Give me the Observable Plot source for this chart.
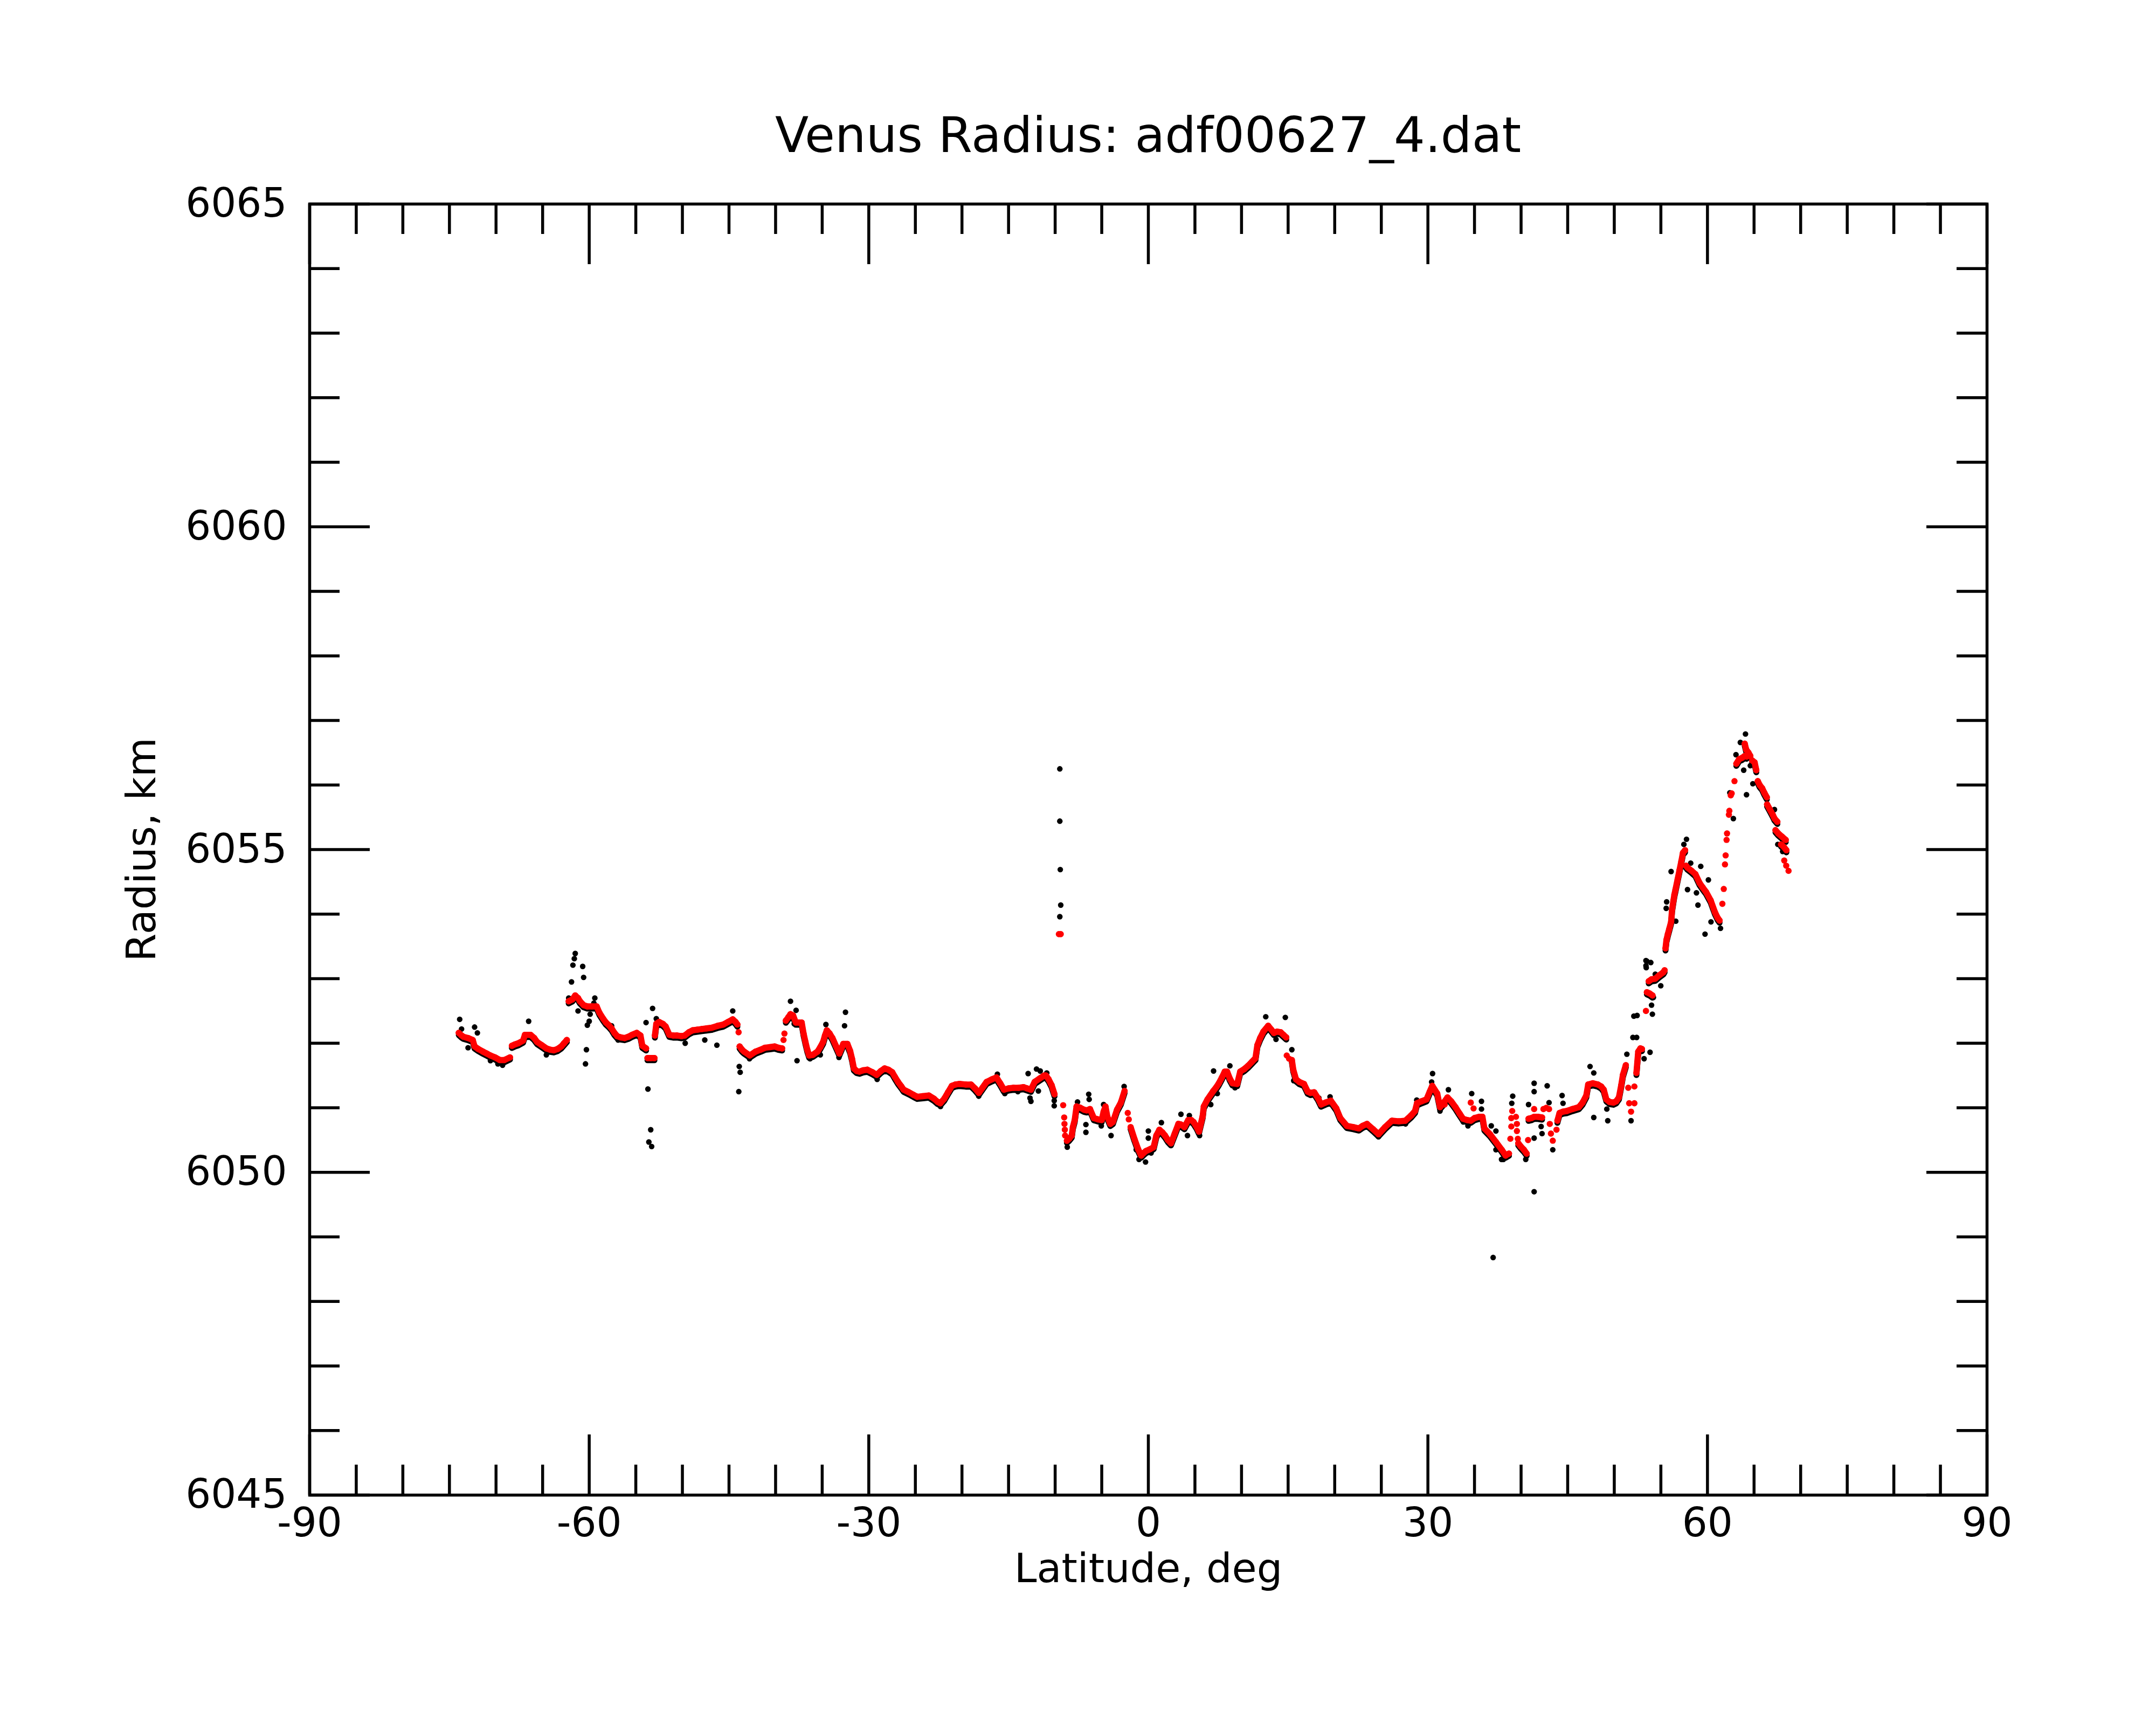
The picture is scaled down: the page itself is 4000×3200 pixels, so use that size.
<!DOCTYPE html>
<html>
<head>
<meta charset="utf-8">
<script src="https://cdn.jsdelivr.net/npm/d3@7"></script>
<script src="https://cdn.jsdelivr.net/npm/@observablehq/plot@0.6"></script>
<style>
html, body { margin: 0; padding: 0; background: #fff; }
#title { margin-left: 574px; width: 3112px; height: 300px; box-sizing: border-box; padding-top: 205px;
  text-align: center; font-family: "DejaVu Sans", sans-serif; font-size: 91px; line-height: 91px; color: #000; white-space: nowrap; }
#chart { width: 4000px; }
</style>
</head>
<body>
<div id="title">Venus Radius: adf00627_4.dat</div>
<div id="chart"></div>
<script>
// ---- tick values ----
const xMajor = [-90, -60, -30, 0, 30, 60, 90];
const xMinor = [-85,-80,-75,-70,-65,-55,-50,-45,-40,-35,-25,-20,-15,-10,-5,5,10,15,20,25,35,40,45,50,55,65,70,75,80,85];
const yMajor = [6045, 6050, 6055, 6060, 6065];
const yMinor = [6046,6047,6048,6049,6051,6052,6053,6054,6056,6057,6058,6059,6061,6062,6063,6064];

// ---- red (smoothed) track: [latitude, radius]; null = gap ----
const redTrack = [
[-74.0,6052.16],[-73.7,6052.12],[-73.5,6052.10],[-73.0,6052.08],[-72.5,6052.05],[-72.3,6051.95],[-71.9,6051.91],[-71.4,6051.87],[-71.0,6051.84],[-70.6,6051.81],[-70.1,6051.78],[-69.6,6051.74],[-69.1,6051.74],[-68.5,6051.78],
null,
[-68.3,6051.96],[-68.0,6051.98],[-67.6,6052.00],[-67.1,6052.04],[-66.9,6052.13],[-66.3,6052.13],[-65.9,6052.08],[-65.6,6052.02],[-65.1,6051.97],[-64.6,6051.92],[-64.2,6051.90],[-63.8,6051.89],[-63.4,6051.91],[-63.0,6051.95],[-62.7,6052.00],[-62.4,6052.05],
null,
[-62.2,6052.65],[-61.8,6052.68],[-61.5,6052.74],[-61.2,6052.70],[-61.0,6052.65],[-60.6,6052.59],[-60.2,6052.57],[-59.7,6052.57],[-59.2,6052.57],[-58.9,6052.47],[-58.5,6052.38],[-58.2,6052.32],[-57.9,6052.28],[-57.6,6052.23],[-57.3,6052.16],[-57.0,6052.11],[-56.6,6052.09],[-56.2,6052.08],[-55.8,6052.10],[-55.4,6052.13],[-54.9,6052.16],[-54.5,6052.12],[-54.3,6051.96],[-53.9,6051.92],
null,
[-53.75,6051.77],[-53.4,6051.77],[-53.0,6051.77],
null,
[-52.95,6052.12],[-52.8,6052.30],[-52.5,6052.33],[-52.1,6052.30],[-51.8,6052.26],[-51.4,6052.13],[-51.0,6052.12],[-50.6,6052.12],[-50.1,6052.11],[-49.75,6052.12],[-49.3,6052.17],[-48.9,6052.20],[-48.4,6052.21],[-47.9,6052.22],[-47.4,6052.23],[-46.85,6052.24],[-46.2,6052.27],[-45.6,6052.29],[-45.1,6052.33],[-44.6,6052.37],[-44.3,6052.33],[-44.1,6052.29],
null,
[-43.86,6051.95],[-43.6,6051.90],[-43.38,6051.87],[-42.77,6051.81],[-42.15,6051.87],[-41.6,6051.90],[-41.13,6051.93],[-40.6,6051.94],[-40.1,6051.95],[-39.7,6051.93],[-39.3,6051.92],
null,
[-38.9,6052.35],[-38.64,6052.40],[-38.4,6052.45],[-38.12,6052.43],[-37.83,6052.32],[-37.5,6052.32],[-37.2,6052.32],[-37.0,6052.15],[-36.8,6052.02],[-36.6,6051.90],[-36.4,6051.81],[-36.0,6051.82],[-35.5,6051.87],[-35.2,6051.94],[-34.9,6052.02],[-34.7,6052.12],[-34.5,6052.20],[-34.2,6052.15],[-33.9,6052.08],[-33.5,6051.95],[-33.16,6051.84],[-32.9,6051.93],[-32.74,6051.99],[-32.3,6051.99],[-32.0,6051.88],[-31.8,6051.76],[-31.6,6051.61],[-31.3,6051.57],[-31.0,6051.56],[-30.6,6051.58],[-30.16,6051.59],[-29.6,6051.55],[-29.15,6051.51],[-28.7,6051.57],[-28.3,6051.61],[-27.9,6051.59],[-27.48,6051.55],[-27.2,6051.48],[-26.86,6051.40],[-26.5,6051.33],[-26.26,6051.28],[-25.7,6051.24],[-25.2,6051.20],[-24.8,6051.17],[-24.2,6051.18],[-23.55,6051.19],[-23.0,6051.14],[-22.6,6051.09],[-22.33,6051.07],[-21.9,6051.14],[-21.5,6051.24],[-21.08,6051.34],[-20.7,6051.36],[-20.25,6051.37],[-19.6,6051.36],[-19.03,6051.36],[-18.6,6051.30],[-18.19,6051.23],[-17.8,6051.31],[-17.36,6051.40],[-16.8,6051.44],[-16.3,6051.47],[-15.9,6051.38],[-15.5,6051.28],[-15.0,6051.30],[-14.47,6051.31],[-13.9,6051.31],[-13.4,6051.32],[-13.0,6051.30],[-12.6,6051.28],[-12.2,6051.40],[-11.7,6051.45],[-11.17,6051.50],[-10.99,6051.50],[-10.7,6051.44],[-10.38,6051.35],[-10.07,6051.21],
null,
[-8.74,6050.49],[-8.5,6050.52],[-8.22,6050.57],[-8.1,6050.70],[-7.9,6050.81],[-7.7,6051.02],[-7.3,6051.00],[-6.9,6050.97],[-6.6,6050.96],[-6.26,6050.98],[-5.85,6050.84],[-5.4,6050.82],[-5.0,6050.81],[-4.8,6050.94],[-4.6,6051.02],[-4.4,6050.86],[-4.08,6050.75],[-3.8,6050.78],[-3.36,6050.97],[-2.95,6051.08],[-2.55,6051.26],
null,
[-1.9,6050.70],[-1.5,6050.52],[-1.1,6050.36],[-0.77,6050.26],[-0.5,6050.30],[-0.26,6050.33],[0.2,6050.36],[0.57,6050.39],[0.86,6050.57],[1.19,6050.66],[1.5,6050.62],[1.79,6050.57],[2.1,6050.50],[2.43,6050.45],[2.83,6050.60],[3.23,6050.75],[3.5,6050.74],[3.87,6050.70],[4.28,6050.81],[4.6,6050.81],[4.85,6050.78],[5.2,6050.70],[5.43,6050.63],[5.83,6050.87],[5.95,6051.02],[6.35,6051.13],[6.97,6051.26],[7.3,6051.32],[7.57,6051.38],[7.9,6051.47],[8.2,6051.56],[8.45,6051.56],[8.75,6051.45],[9.02,6051.38],[9.54,6051.37],[9.86,6051.56],[10.3,6051.60],[10.7,6051.65],[11.1,6051.71],[11.5,6051.77],[11.7,6051.97],[12.0,6052.08],[12.35,6052.18],[12.86,6052.27],[13.2,6052.21],[13.47,6052.16],[13.8,6052.18],[14.2,6052.17],[14.5,6052.13],[14.8,6052.09],
null,
[15.4,6051.74],[15.55,6051.59],[15.85,6051.44],[16.2,6051.40],[16.7,6051.37],[17.1,6051.25],[17.4,6051.23],[17.8,6051.24],[18.2,6051.15],[18.54,6051.05],[19.0,6051.08],[19.58,6051.11],[20.17,6050.99],[20.6,6050.84],[21.3,6050.72],[22.0,6050.70],[22.6,6050.68],[23.0,6050.72],[23.46,6050.75],[24.1,6050.67],[24.7,6050.59],[25.4,6050.70],[26.14,6050.80],[26.9,6050.79],[27.58,6050.80],[28.2,6050.88],[28.62,6050.95],[28.83,6051.07],[29.3,6051.10],[29.85,6051.13],[30.2,6051.25],[30.47,6051.34],[31.0,6051.22],[31.3,6051.01],[31.7,6051.08],[32.1,6051.16],[32.5,6051.10],[32.96,6051.01],[33.4,6050.91],[33.77,6050.83],[34.2,6050.81],[34.6,6050.80],[35.0,6050.84],[35.5,6050.86],[35.85,6050.86],[36.06,6050.68],[36.66,6050.59],[37.3,6050.47],[37.92,6050.35],[38.34,6050.26],[38.7,6050.29],
null,
[39.7,6050.45],[39.97,6050.40],[40.3,6050.35],[40.6,6050.29],
null,
[40.8,6050.83],[41.1,6050.84],[41.4,6050.86],[41.8,6050.86],[42.25,6050.85],
null,
[43.9,6050.80],[44.13,6050.92],[44.5,6050.94],[44.9,6050.95],[45.5,6050.98],[46.2,6051.01],[46.6,6051.08],[47.0,6051.19],[47.2,6051.36],[47.7,6051.38],[48.24,6051.36],[48.6,6051.33],[48.87,6051.28],[49.15,6051.13],[49.5,6051.09],[49.9,6051.08],[50.2,6051.10],[50.5,6051.16],[50.75,6051.35],[50.93,6051.51],[51.24,6051.66],
null,
[52.38,6051.54],[52.57,6051.87],[52.8,6051.92],[52.97,6051.91],
null,
[53.5,6052.79],[53.8,6052.77],[54.1,6052.74],
null,
[53.7,6052.96],[54.0,6052.99],[54.4,6053.00],[54.8,6053.05],[55.27,6053.10],[55.4,6053.13],
null,
[55.5,6053.47],[55.6,6053.60],[55.75,6053.69],[55.9,6053.77],[56.1,6053.88],[56.2,6054.07],[56.35,6054.21],[56.45,6054.30],[56.57,6054.38],[56.8,6054.54],[57.0,6054.68],[57.2,6054.82],[57.37,6054.95],[57.6,6054.99],
null,
[57.7,6054.75],[57.86,6054.72],[58.3,6054.67],[58.7,6054.62],[59.16,6054.48],[59.5,6054.41],[59.86,6054.34],[60.35,6054.21],[60.8,6054.03],[61.1,6053.94],[61.3,6053.90],
null,
[63.1,6056.33],[63.4,6056.40],[63.7,6056.42],[64.0,6056.45],[64.2,6056.44],
null,
[64.0,6056.64],[64.15,6056.55],[64.4,6056.50],[64.6,6056.45],
null,
[64.8,6056.38],[65.06,6056.35],[65.24,6056.23],
null,
[65.4,6056.06],[65.6,6056.00],[65.87,6055.95],[66.1,6055.88],[66.37,6055.81],
null,
[66.4,6055.70],[66.7,6055.62],[67.0,6055.54],[67.2,6055.48],[67.5,6055.43],
null,
[67.3,6055.30],[67.6,6055.25],[68.0,6055.20],[68.4,6055.15],
null,
[67.9,6055.08],[68.2,6055.04],[68.47,6054.99]
];

// ---- isolated red points ----
const redSparse = [
[-43.97,6052.17],[-39.15,6052.05],[-39.05,6052.15],
[-9.6,6053.69],[-9.4,6053.69],
[-9.14,6051.04],[-9.03,6050.85],[-9.0,6050.75],[-8.96,6050.66],[-8.93,6050.57],
[-2.21,6050.92],[-2.1,6050.82],
[14.85,6051.81],[15.1,6051.76],
[31.8,6051.05],[34.6,6051.08],[34.9,6050.99],
[38.85,6050.52],[38.95,6050.71],[38.95,6050.84],[39.05,6050.95],[39.45,6050.86],[39.55,6050.75],[39.55,6050.64],[39.65,6050.52],
[40.75,6050.50],
[41.4,6050.98],[42.4,6050.98],[42.7,6051.00],[43.0,6050.98],
[43.08,6050.75],[43.2,6050.60],[43.4,6050.49],[43.8,6050.66],
[51.5,6051.31],[51.6,6051.07],[51.8,6050.94],[52.16,6051.33],[52.16,6051.07],
[53.4,6052.50],
[61.6,6054.16],[61.75,6054.39],[61.88,6054.77],[61.95,6054.91],[62.05,6055.15],[62.1,6055.25],[62.3,6055.54],[62.35,6055.60],[62.5,6055.84],[62.6,6055.87],[62.9,6056.06],
[68.24,6054.83],[68.45,6054.75],[68.7,6054.67]
];

// ---- black raw points standing off the track ----
const blackRaw = [
[-73.9,6052.37],[-73.7,6052.22],[-73.0,6051.93],[-72.3,6052.25],[-72.0,6052.16],[-70.6,6051.73],[-69.8,6051.68],[-69.3,6051.66],
[-66.5,6052.34],[-64.6,6051.82],
[-61.5,6053.39],[-61.6,6053.31],[-61.75,6053.21],[-60.7,6053.19],[-60.6,6053.02],[-61.9,6052.95],[-62.2,6052.70],[-61.2,6052.50],
[-59.4,6052.70],[-59.5,6052.62],[-59.9,6052.45],[-60.0,6052.34],[-60.2,6052.28],[-60.3,6051.90],[-60.4,6051.68],
[-57.6,6052.27],[-56.9,6052.05],
[-53.2,6052.54],[-53.9,6052.32],[-53.7,6051.29],[-53.4,6050.66],[-53.6,6050.47],[-53.3,6050.40],[-52.8,6052.38],
[-49.7,6052.00],[-47.6,6052.05],[-46.3,6051.97],[-44.6,6052.50],[-43.9,6051.64],[-43.8,6051.55],[-43.95,6051.25],[-42.8,6051.76],
[-38.4,6052.65],[-37.8,6052.51],[-37.7,6051.73],[-38.0,6052.30],[-36.3,6051.76],[-35.2,6051.82],[-34.6,6052.29],[-33.2,6051.78],
[-32.5,6052.48],[-32.6,6052.27],[-29.1,6051.44],[-22.3,6051.02],[-18.2,6051.18],[-16.2,6051.52],[-15.4,6051.22],[-14.0,6051.25],
[-12.9,6051.53],[-12.0,6051.60],[-11.6,6051.57],[-12.6,6051.10],[-12.7,6051.15],[-11.8,6051.26],
[-9.5,6056.25],[-9.5,6055.44],[-9.45,6054.69],[-9.4,6054.14],[-9.5,6053.96],
[-10.9,6051.54],[-10.1,6051.11],[-10.1,6051.03],[-8.7,6050.39],[-7.6,6051.09],[-6.4,6051.21],[-6.35,6051.13],[-6.7,6050.74],[-6.7,6050.62],
[-5.05,6050.72],[-4.8,6051.05],[-4.0,6050.57],[-2.6,6051.33],[-1.3,6050.35],[-0.3,6050.16],[-1.0,6050.20],[0.0,6050.64],[0.0,6050.53],[0.3,6050.30],
[1.4,6050.77],[3.5,6050.90],[4.4,6050.88],[4.2,6050.57],[5.5,6050.57],[7.0,6051.57],[6.7,6051.05],[7.4,6051.22],[8.75,6051.65],[9.3,6051.31],
[12.6,6052.41],[14.7,6052.40],[13.7,6052.06],[15.4,6051.90],[15.6,6051.42],[18.3,6051.15],[19.5,6051.17],
[24.7,6050.55],[27.6,6050.75],[28.8,6051.12],[30.5,6051.53],[30.4,6051.40],[32.2,6051.28],[31.3,6050.95],[33.8,6050.78],[34.3,6050.72],[34.7,6051.22],
[35.75,6051.10],[35.75,6050.98],[36.8,6050.72],[37.3,6050.64],[37.3,6050.35],[37.9,6050.20],[38.1,6050.20],[39.1,6051.18],[39.0,6051.07],[40.5,6050.20],
[41.4,6051.38],[41.4,6051.25],[40.8,6051.05],[42.15,6050.71],[41.4,6050.53],[42.25,6050.60],[42.8,6051.34],[43.0,6051.08],[43.4,6050.35],[44.4,6051.19],[44.5,6051.07],
[41.4,6049.70],[37.0,6048.68],
[47.4,6051.64],[47.8,6051.54],[47.8,6050.85],[49.2,6050.98],[49.3,6050.80],[51.8,6050.80],[52.0,6052.09],[52.1,6052.42],[53.4,6053.28],[53.4,6053.20],
[51.35,6051.83],[53.2,6051.76],[53.84,6051.86],[52.4,6052.09],[52.45,6052.43],[54.09,6052.45],[54.0,6052.59],[54.2,6052.71],[54.99,6052.89],[54.4,6053.07],
[53.43,6053.17],[53.92,6053.25],[53.5,6053.27],
[55.57,6054.09],[55.62,6054.19],[56.6,6053.89],[56.1,6054.66],[57.47,6055.08],[57.75,6055.16],[58.2,6054.79],[59.28,6054.74],[57.86,6054.38],[58.82,6054.33],
[58.98,6054.14],[60.1,6054.53],[60.38,6053.88],[59.74,6053.69],[61.4,6053.78],
[62.4,6055.88],[62.78,6055.48],[63.06,6056.47],[63.53,6056.66],[64.08,6056.79],[63.89,6056.23],[64.6,6056.30],[64.87,6056.02],[64.19,6055.85],
[67.19,6055.62],[67.55,6055.08],[68.07,6054.97]
];

const track = redTrack.map(p => p ? {lat: p[0], r: p[1]} : {lat: null, r: null});
const sparse = redSparse.map(p => ({lat: p[0], r: p[1]}));
const raw = blackRaw.map(p => ({lat: p[0], r: p[1]}));

const W = 4000, H = 2900;
const mL = 574, mR = 314, mT = 78, mB = 427;
const fw = W - mL - mR, fh = H - mT - mB;
const minorLen = 56, majorLen = 112, sw = 5.5;

const plot = Plot.plot({
  width: W, height: H,
  marginLeft: mL, marginRight: mR, marginTop: mT, marginBottom: mB,
  x: {domain: [-90, 90]},
  y: {domain: [6045, 6065]},
  style: {fontFamily: '"DejaVu Sans", sans-serif', fontSize: "74px", background: "white", color: "black", overflow: "visible"},
  marks: [
    // black raw data (track underneath the smoothed red trace + stray points)
    Plot.line(track, {x: "lat", y: "r", stroke: "black", strokeWidth: 11, dy: 4, strokeLinecap: "round", strokeLinejoin: "round"}),
    Plot.dot(raw, {x: "lat", y: "r", r: 5.2, fill: "black"}),
    // red smoothed data
    Plot.line(track, {x: "lat", y: "r", stroke: "#ff0000", strokeWidth: 11.5, strokeLinecap: "round", strokeLinejoin: "round"}),
    Plot.dot(track, {x: "lat", y: "r", r: 5.8, fill: "#ff0000"}),
    Plot.dot(sparse, {x: "lat", y: "r", r: 5.8, fill: "#ff0000"}),
    // inward ticks on all four sides
    Plot.ruleX(xMinor, {x: d => d, insetTop: fh - minorLen, stroke: "black", strokeWidth: sw}),
    Plot.ruleX(xMinor, {x: d => d, insetBottom: fh - minorLen, stroke: "black", strokeWidth: sw}),
    Plot.ruleX(xMajor, {x: d => d, insetTop: fh - majorLen, stroke: "black", strokeWidth: sw}),
    Plot.ruleX(xMajor, {x: d => d, insetBottom: fh - majorLen, stroke: "black", strokeWidth: sw}),
    Plot.ruleY(yMinor, {y: d => d, insetRight: fw - minorLen, stroke: "black", strokeWidth: sw}),
    Plot.ruleY(yMinor, {y: d => d, insetLeft: fw - minorLen, stroke: "black", strokeWidth: sw}),
    Plot.ruleY(yMajor, {y: d => d, insetRight: fw - majorLen, stroke: "black", strokeWidth: sw}),
    Plot.ruleY(yMajor, {y: d => d, insetLeft: fw - majorLen, stroke: "black", strokeWidth: sw}),
    Plot.frame({stroke: "black", strokeWidth: sw}),
    Plot.axisX({ticks: xMajor, tickSize: 0, tickPadding: 24, fontSize: 74, label: null, tickFormat: d => String(d)}),
    Plot.axisY({ticks: yMajor, tickSize: 0, tickPadding: 42, fontSize: 74, label: null, tickFormat: d => String(d)}),
    Plot.text(["Latitude, deg"], {frameAnchor: "bottom", dy: 137, fontSize: 75, lineAnchor: "middle", textAnchor: "middle", text: d => d, fill: "black"}),
    Plot.text(["Radius, km"], {frameAnchor: "left", dx: -311, rotate: -90, fontSize: 75, lineAnchor: "middle", textAnchor: "middle", text: d => d, fill: "black"})
  ]
});
document.getElementById("chart").appendChild(plot);
</script>
</body>
</html>
